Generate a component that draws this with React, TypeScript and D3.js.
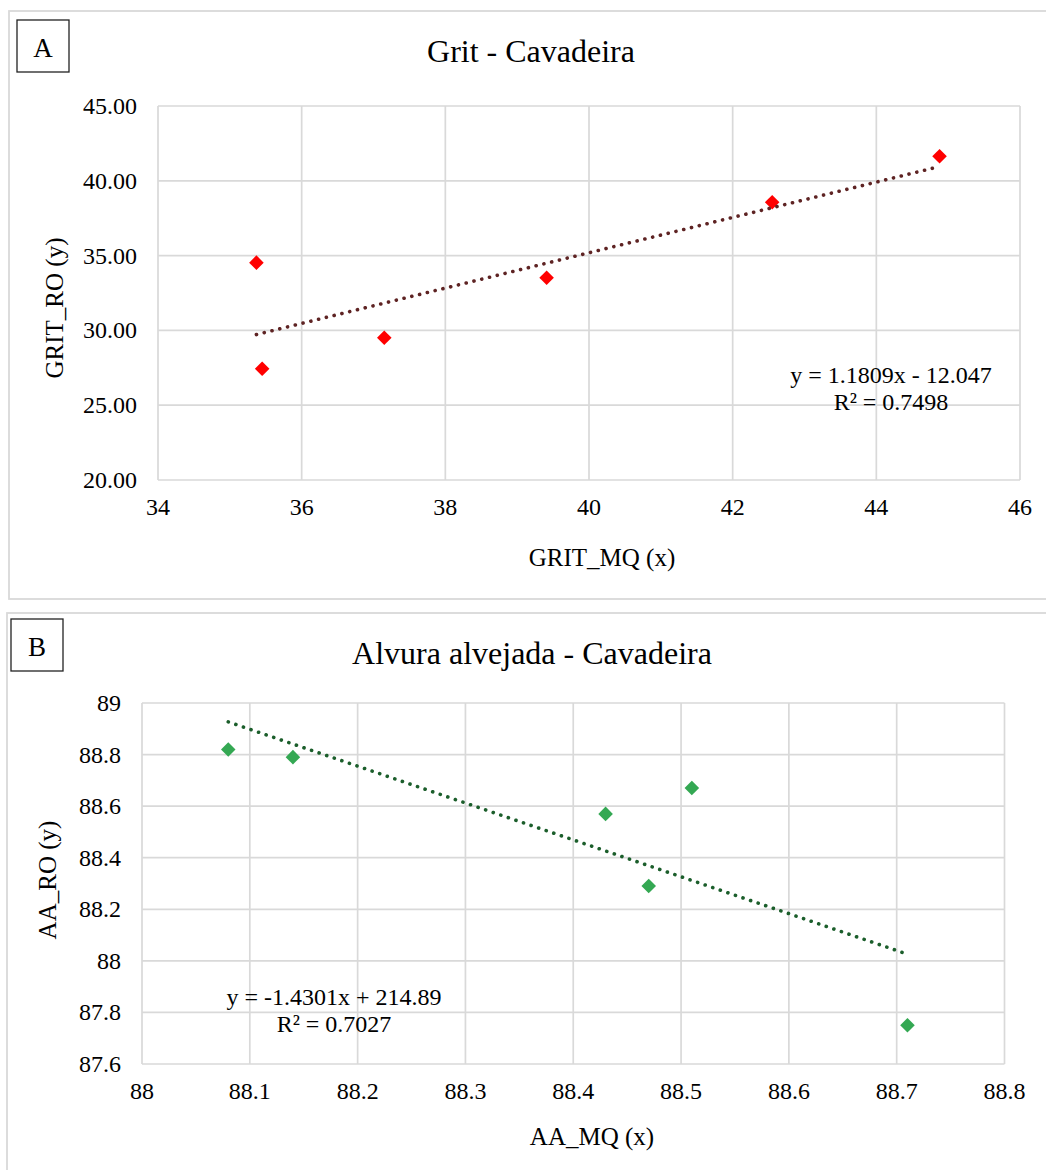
import React from "react";
import * as d3 from "d3";

// Panel A data
const gritMQ = [35.37, 35.45, 37.15, 39.41, 42.55, 44.88];
const gritRO = [34.53, 27.44, 29.51, 33.52, 38.56, 41.64];
const gritSlope = 1.1809;
const gritIntercept = -12.047;
const gritEq = ["y = 1.1809x - 12.047", "R² = 0.7498"];
const gritXTicks = [34, 36, 38, 40, 42, 44, 46];
const gritYTicks = [20, 25, 30, 35, 40, 45];

// Panel B data
const aaMQ = [88.08, 88.14, 88.43, 88.47, 88.51, 88.71];
const aaRO = [88.82, 88.79, 88.57, 88.29, 88.67, 87.75];
const aaSlope = -1.4301;
const aaIntercept = 214.89;
const aaEq = ["y = -1.4301x + 214.89", "R² = 0.7027"];
const aaXTicks = [88, 88.1, 88.2, 88.3, 88.4, 88.5, 88.6, 88.7, 88.8];
const aaYTicks = [87.6, 87.8, 88, 88.2, 88.4, 88.6, 88.8, 89];

const FONT = "'Liberation Serif', 'Times New Roman', serif";
const GRID = "#d9d9d9";

type PanelProps = {
  letter: string;
  title: string;
  xs: number[];
  ys: number[];
  slope: number;
  intercept: number;
  eq: string[];
  xTicks: number[];
  yTicks: number[];
  xFmt: (v: number) => string;
  yFmt: (v: number) => string;
  box: { x: number; y: number; w: number; h: number };
  letterBox: { x: number; y: number };
  plot: { l: number; t: number; r: number; b: number };
  titlePos: { x: number; y: number };
  xTitle: string;
  yTitle: string;
  xTitlePos: { x: number; y: number };
  yTitlePos: { x: number; y: number };
  eqPos: { x: number; y: number };
  marker: string;
  trend: string;
};

function Panel(p: PanelProps) {
  const x = d3.scaleLinear().domain([p.xTicks[0], p.xTicks[p.xTicks.length - 1]]).range([p.plot.l, p.plot.r]);
  const y = d3.scaleLinear().domain([p.yTicks[0], p.yTicks[p.yTicks.length - 1]]).range([p.plot.b, p.plot.t]);
  const xMin = d3.min(p.xs)!;
  const xMax = d3.max(p.xs)!;
  const trendPts: [number, number][] = [xMin, xMax].map((v) => [v, p.slope * v + p.intercept]);
  const line = d3.line<[number, number]>().x((d) => x(d[0])).y((d) => y(d[1]));
  const diamond = d3.symbol().type(d3.symbolDiamond2).size(135)();
  return (
    <g>
      <rect x={p.box.x} y={p.box.y} width={p.box.w} height={p.box.h} fill="#fff" stroke={GRID} strokeWidth={1.8} />
      <rect x={p.letterBox.x} y={p.letterBox.y} width={52} height={52} fill="#fff" stroke="#222" strokeWidth={1.3} />
      <text x={p.letterBox.x + 26} y={p.letterBox.y + 37} textAnchor="middle" fontSize={27} fontFamily={FONT} fill="#000">{p.letter}</text>
      <text x={p.titlePos.x} y={p.titlePos.y} textAnchor="middle" fontSize={32} fontFamily={FONT} fill="#000">{p.title}</text>
      {p.xTicks.map((t) => (
        <line key={"gx" + t} x1={x(t)} x2={x(t)} y1={p.plot.t} y2={p.plot.b} stroke={GRID} strokeWidth={1.7} />
      ))}
      {p.yTicks.map((t) => (
        <line key={"gy" + t} x1={p.plot.l} x2={p.plot.r} y1={y(t)} y2={y(t)} stroke={GRID} strokeWidth={1.7} />
      ))}
      {p.xTicks.map((t) => (
        <text key={"tx" + t} x={x(t)} y={p.plot.b + 35} textAnchor="middle" fontSize={24} fontFamily={FONT} fill="#000">{p.xFmt(t)}</text>
      ))}
      {p.yTicks.map((t) => (
        <text key={"ty" + t} x={p.plot.l - 21} y={y(t) + 8} textAnchor="end" fontSize={24} fontFamily={FONT} fill="#000">{p.yFmt(t)}</text>
      ))}
      <text x={p.xTitlePos.x} y={p.xTitlePos.y} textAnchor="middle" fontSize={25} fontFamily={FONT} fill="#000">{p.xTitle}</text>
      <text transform={`translate(${p.yTitlePos.x},${p.yTitlePos.y}) rotate(-90)`} textAnchor="middle" fontSize={25} fontFamily={FONT} fill="#000">{p.yTitle}</text>
      {p.xs.map((v, i) => (
        <path key={"pt" + i} d={diamond} transform={`translate(${x(v)},${y(p.ys[i])})`} fill={p.marker} />
      ))}
      <path d={line(trendPts)!} fill="none" stroke={p.trend} strokeWidth={3.6} strokeLinecap="round" strokeDasharray="0.1 7.9" />
      {p.eq.map((s, i) => (
        <text key={"eq" + i} x={p.eqPos.x} y={p.eqPos.y + i * 27} textAnchor="middle" fontSize={24} fontFamily={FONT} fill="#000">{s}</text>
      ))}
    </g>
  );
}

export default function App() {
  return (
    <svg width={1046} height={1170} style={{ position: "absolute", left: 0, top: 0, background: "#fff" }}>
      <rect x={0} y={0} width={1046} height={1170} fill="#fff" />
      <Panel
        letter="A"
        title="Grit - Cavadeira"
        xs={gritMQ}
        ys={gritRO}
        slope={gritSlope}
        intercept={gritIntercept}
        eq={gritEq}
        xTicks={gritXTicks}
        yTicks={gritYTicks}
        xFmt={(v) => String(v)}
        yFmt={(v) => d3.format(".2f")(v)}
        box={{ x: 9, y: 11, w: 1045, h: 588 }}
        letterBox={{ x: 17, y: 20 }}
        plot={{ l: 158, t: 106, r: 1020, b: 480 }}
        titlePos={{ x: 531, y: 62 }}
        xTitle="GRIT_MQ (x)"
        yTitle="GRIT_RO (y)"
        xTitlePos={{ x: 602, y: 566 }}
        yTitlePos={{ x: 63, y: 308 }}
        eqPos={{ x: 891, y: 383 }}
        marker="#ff0000"
        trend="#5e2323"
      />
      <Panel
        letter="B"
        title="Alvura alvejada - Cavadeira"
        xs={aaMQ}
        ys={aaRO}
        slope={aaSlope}
        intercept={aaIntercept}
        eq={aaEq}
        xTicks={aaXTicks}
        yTicks={aaYTicks}
        xFmt={(v) => String(+v.toFixed(1))}
        yFmt={(v) => String(+v.toFixed(1))}
        box={{ x: 7, y: 613, w: 1050, h: 600 }}
        letterBox={{ x: 11, y: 619 }}
        plot={{ l: 142, t: 703, r: 1004.5, b: 1064 }}
        titlePos={{ x: 532, y: 664 }}
        xTitle="AA_MQ (x)"
        yTitle="AA_RO (y)"
        xTitlePos={{ x: 592, y: 1145 }}
        yTitlePos={{ x: 56, y: 880 }}
        eqPos={{ x: 334, y: 1005 }}
        marker="#34a853"
        trend="#1b5e2b"
      />
    </svg>
  );
}
